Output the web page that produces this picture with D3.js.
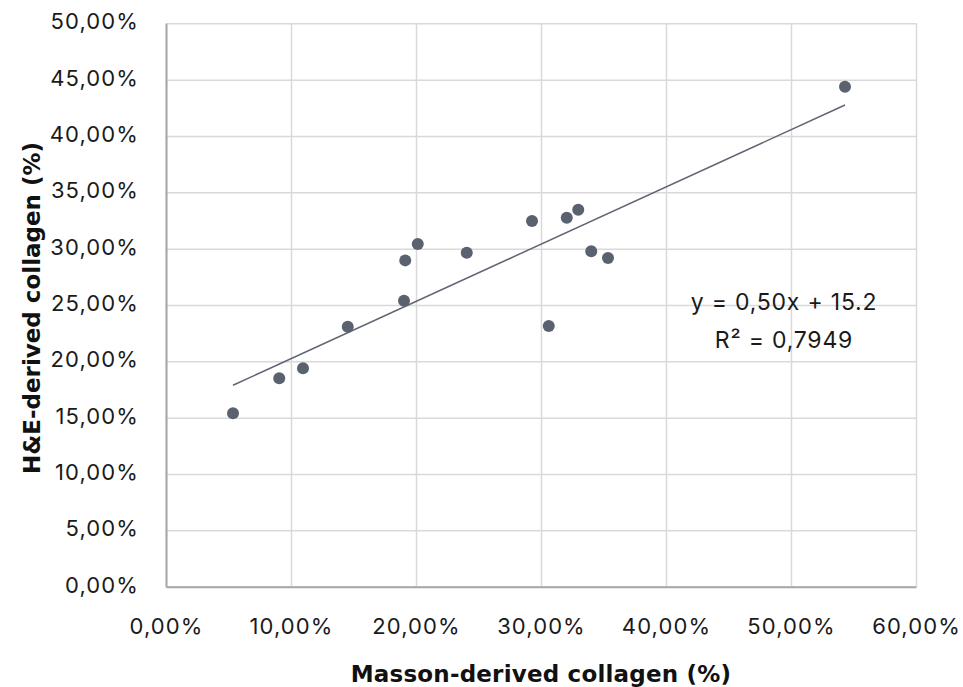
<!DOCTYPE html>
<html>
<head>
<meta charset="utf-8">
<script src="https://cdn.jsdelivr.net/npm/d3@7"></script>
<style>
  body { margin: 0; background: #fff; }
  svg { display: block; font-family: "DejaVu Sans", Inter, sans-serif; }
  .grid line { stroke: #d9d9d9; stroke-width: 1.5; }
  .grid .domain { display: none; }
</style>
</head>
<body>
<svg id="chart" width="963" height="687"></svg>
<script>
// Masson vs H&E derived collagen, in percent
const massonPct = [5.36, 9.06, 10.96, 14.54, 19.04, 19.14, 20.14, 24.06, 29.28, 30.62, 32.06, 32.98, 34.02, 35.36, 54.32];
const hePct = [15.39, 18.49, 19.38, 23.07, 25.38, 28.96, 30.41, 29.64, 32.45, 23.13, 32.74, 33.45, 29.76, 29.17, 44.36];
const xTicks = [0, 10, 20, 30, 40, 50, 60];
const yTicks = [0, 5, 10, 15, 20, 25, 30, 35, 40, 45, 50];
const equationLines = ['y = 0,50x + 15.2', 'R² = 0,7949'];
const xTitle = 'Masson-derived collagen (%)';
const yTitle = 'H&E-derived collagen (%)';

const svg = d3.select('#chart');
const margin = { top: 23.3, right: 47, bottom: 100.3, left: 166 };
const width = +svg.attr('width') - margin.left - margin.right;
const height = +svg.attr('height') - margin.top - margin.bottom;
const g = svg.append('g').attr('transform', `translate(${margin.left}, ${margin.top})`);

const x = d3.scaleLinear().domain([0, 60]).range([0, width]);
const y = d3.scaleLinear().domain([0, 50]).range([height, 0]);
const fmt = (d) => d.toFixed(2).replace('.', ',') + '%';

// gridlines
g.append('g')
    .attr('class', 'grid')
    .attr('transform', `translate(0, ${height})`)
    .call(d3.axisBottom(x).tickValues(xTicks).tickSize(-height).tickFormat(''));
g.append('g')
    .attr('class', 'grid')
    .call(d3.axisLeft(y).tickValues(yTicks).tickSize(-width).tickFormat(''));

// axes
const xAxis = g.append('g')
    .attr('transform', `translate(0, ${height})`)
    .call(d3.axisBottom(x).tickValues(xTicks).tickSize(0).tickPadding(32).tickFormat(fmt));
const yAxis = g.append('g')
    .call(d3.axisLeft(y).tickValues(yTicks).tickSize(0).tickPadding(27).tickFormat(fmt));
[xAxis, yAxis].forEach((a) => {
  a.select('.domain').attr('stroke', '#a6a6a6').attr('stroke-width', 2);
  a.selectAll('text')
      .attr('fill', '#1a1a1a')
      .style('font-family', 'Inter, sans-serif')
      .style('letter-spacing', '1.1px')
      .style('font-size', '22px');
});
yAxis.selectAll('text').attr('dy', '0.25em');

// trendline from least squares
const pts = massonPct.map((v, i) => ({ x: v, y: hePct[i] }));
const mx = d3.mean(pts, (d) => d.x);
const my = d3.mean(pts, (d) => d.y);
const slope = d3.sum(pts, (d) => (d.x - mx) * (d.y - my)) / d3.sum(pts, (d) => (d.x - mx) ** 2);
const intercept = my - slope * mx;
const [x0, x1] = d3.extent(massonPct);
g.append('line')
    .attr('x1', x(x0)).attr('y1', y(slope * x0 + intercept))
    .attr('x2', x(x1)).attr('y2', y(slope * x1 + intercept))
    .attr('stroke', '#5f6673')
    .attr('stroke-width', 1.5);

// points
g.selectAll('circle')
    .data(pts)
  .enter().append('circle')
    .attr('cx', (d) => x(d.x))
    .attr('cy', (d) => y(d.y))
    .attr('r', 6)
    .attr('fill', '#5a6270');

// equation label
const eq = g.append('text')
    .attr('text-anchor', 'middle')
    .attr('fill', '#1a1a1a')
    .style('font-family', 'Inter, sans-serif')
    .style('letter-spacing', '0.8px')
    .style('font-size', '23px');
eq.selectAll('tspan')
    .data(equationLines)
  .enter().append('tspan')
    .attr('x', 784 - margin.left)
    .attr('y', (d, i) => 310 - margin.top + i * 38)
    .text((d) => d);

// titles
svg.append('text')
    .attr('x', 541)
    .attr('y', 682)
    .attr('text-anchor', 'middle')
    .attr('fill', '#111')
    .style('font-size', '23px')
    .style('letter-spacing', '0.2px')
    .style('font-weight', 'bold')
    .text(xTitle);
svg.append('text')
    .attr('transform', 'translate(40, 308) rotate(-90)')
    .attr('text-anchor', 'middle')
    .attr('fill', '#111')
    .style('font-size', '23px')
    .style('font-weight', 'bold')
    .text(yTitle);
</script>
</body>
</html>
